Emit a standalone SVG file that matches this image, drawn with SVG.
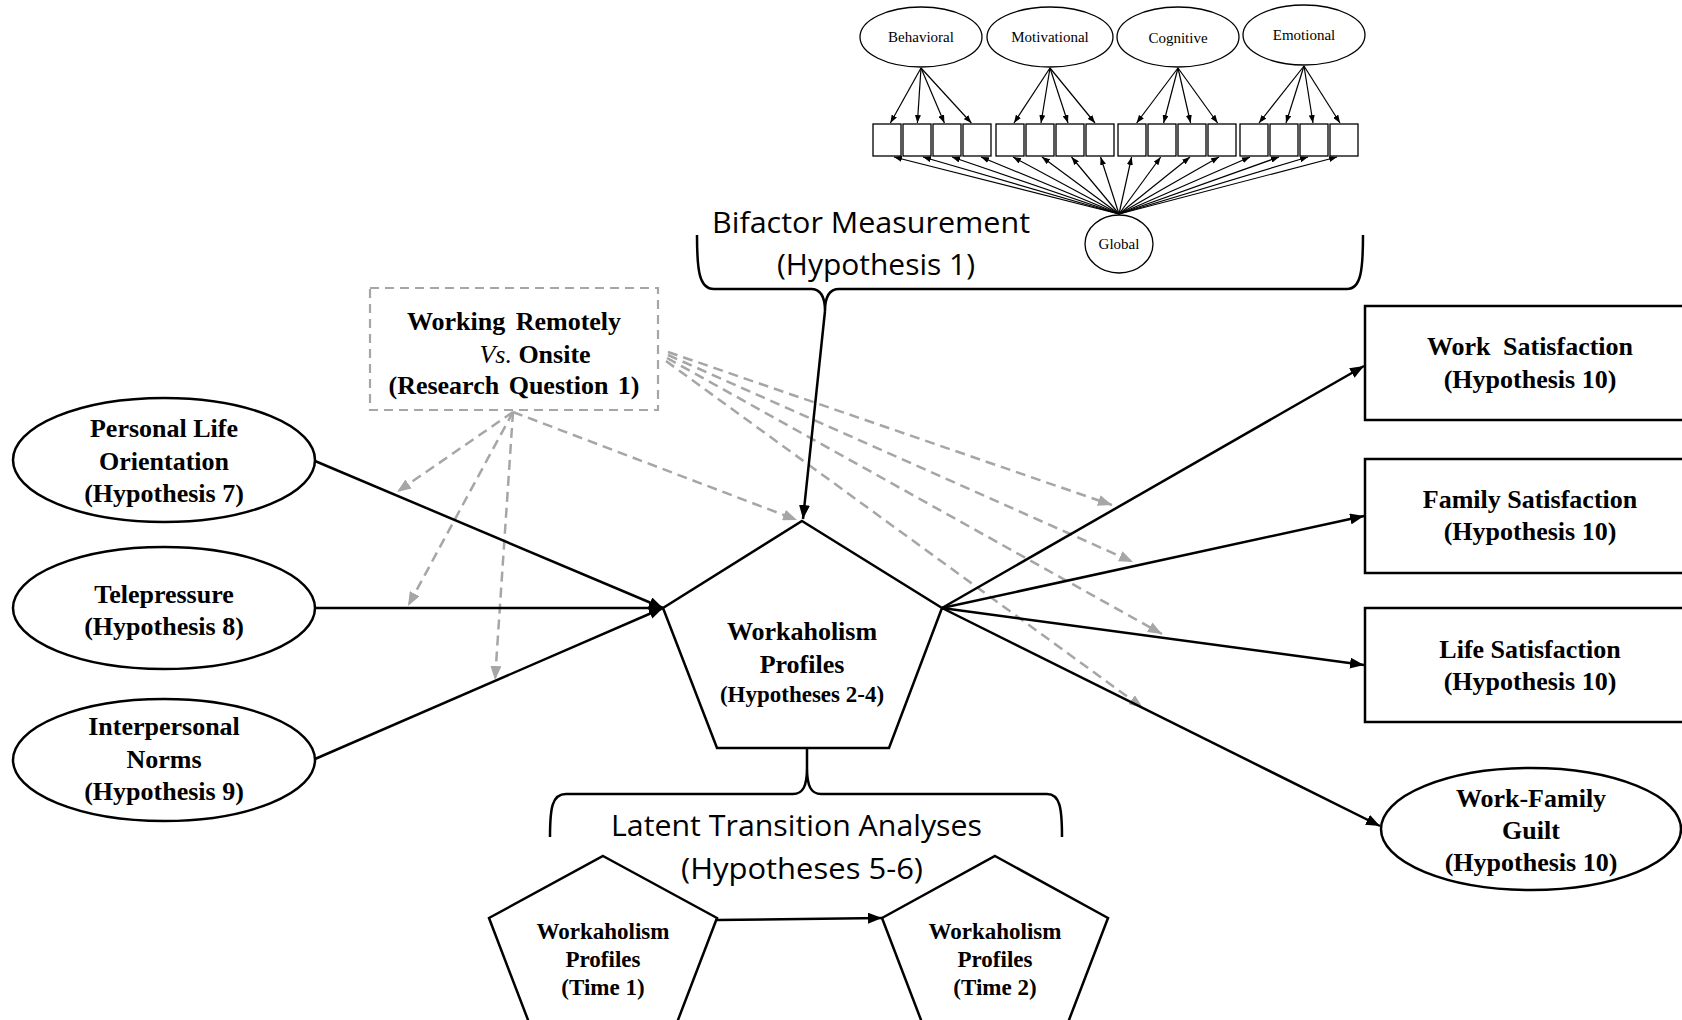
<svg xmlns="http://www.w3.org/2000/svg" width="1682" height="1020" viewBox="0 0 1682 1020">
<style>
.node{fill:#fff;stroke:#000;stroke-width:2.5}
.mm{fill:#fff;stroke:#000;stroke-width:1.3}
.lbl{font-family:"Liberation Serif","Times New Roman",serif;font-weight:bold;font-size:26px;text-anchor:middle;fill:#000}
.l23{font-size:23px}
.it{font-style:italic;font-weight:normal}
.sm{font-family:"Liberation Serif","Times New Roman",serif;font-size:15px;text-anchor:middle;fill:#000}
.sans{font-family:"Open Sans","Liberation Sans",sans-serif;font-size:30px;fill:#000}
.solid{stroke:#000;stroke-width:2.5;fill:none;marker-end:url(#ah)}
.dash{stroke:#a6a6a6;stroke-width:2.5;stroke-dasharray:10 6;fill:none;marker-end:url(#ahg)}
.thin{stroke:#000;stroke-width:1.2;fill:none;marker-end:url(#ahs)}
.brace{fill:none;stroke:#000;stroke-width:2.5}
.dbox{fill:#fff;stroke:#a6a6a6;stroke-width:2.2;stroke-dasharray:9 6}
</style>
<defs>
<marker id="ah" markerUnits="userSpaceOnUse" markerWidth="14" markerHeight="11" refX="14" refY="5.5" orient="auto"><path d="M0,0 L14,5.5 L0,11 z" fill="#000"/></marker>
<marker id="ahg" markerUnits="userSpaceOnUse" markerWidth="14" markerHeight="11" refX="14" refY="5.5" orient="auto"><path d="M0,0 L14,5.5 L0,11 z" fill="#a6a6a6"/></marker>
<marker id="ahs" markerUnits="userSpaceOnUse" markerWidth="8" markerHeight="6" refX="8" refY="3" orient="auto"><path d="M0,0 L8,3 L0,6 z" fill="#000"/></marker>
</defs>
<rect width="1682" height="1020" fill="#fff"/>

<!-- measurement model -->
<g id="behavioral"><ellipse class="mm" cx="921" cy="37" rx="61" ry="30"/><text class="sm" x="921" y="42">Behavioral</text></g>
<g id="motivational"><ellipse class="mm" cx="1050" cy="37" rx="63" ry="30"/><text class="sm" x="1050" y="42">Motivational</text></g>
<g id="cognitive"><ellipse class="mm" cx="1178" cy="37" rx="61" ry="30"/><text class="sm" x="1178" y="43">Cognitive</text></g>
<g id="emotional"><ellipse class="mm" cx="1304" cy="35" rx="61" ry="30"/><text class="sm" x="1304" y="40">Emotional</text></g>
<g id="global"><ellipse class="mm" cx="1119" cy="244" rx="34" ry="29"/><text class="sm" x="1119" y="249">Global</text></g>
<g id="items">
<g id="i1"><rect class="mm" x="873" y="124" width="28" height="32"/></g>
<g id="i2"><rect class="mm" x="903" y="124" width="28" height="32"/></g>
<g id="i3"><rect class="mm" x="933" y="124" width="28" height="32"/></g>
<g id="i4"><rect class="mm" x="963" y="124" width="28" height="32"/></g>
<g id="i5"><rect class="mm" x="996" y="124" width="28" height="32"/></g>
<g id="i6"><rect class="mm" x="1026" y="124" width="28" height="32"/></g>
<g id="i7"><rect class="mm" x="1056" y="124" width="28" height="32"/></g>
<g id="i8"><rect class="mm" x="1086" y="124" width="28" height="32"/></g>
<g id="i9"><rect class="mm" x="1118" y="124" width="28" height="32"/></g>
<g id="i10"><rect class="mm" x="1148" y="124" width="28" height="32"/></g>
<g id="i11"><rect class="mm" x="1178" y="124" width="28" height="32"/></g>
<g id="i12"><rect class="mm" x="1208" y="124" width="28" height="32"/></g>
<g id="i13"><rect class="mm" x="1240" y="124" width="28" height="32"/></g>
<g id="i14"><rect class="mm" x="1270" y="124" width="28" height="32"/></g>
<g id="i15"><rect class="mm" x="1300" y="124" width="28" height="32"/></g>
<g id="i16"><rect class="mm" x="1330" y="124" width="28" height="32"/></g>
</g>

<!-- braces and big labels -->
<g id="bifactor">
<path class="brace" d="M697,235 C697,270 699,289 714,289 L811,289 C821,289 825,297 825,311 C825,297 829,289 839,289 L1347,289 C1361,289 1363,270 1363,235"/>
<text class="sans" x="712" y="233" textLength="318" lengthAdjust="spacingAndGlyphs">Bifactor Measurement</text>
<text class="sans" x="777" y="275" textLength="198" lengthAdjust="spacingAndGlyphs">(Hypothesis 1)</text>
</g>
<g id="lta">
<path class="brace" d="M550,837 C550,808 552,794 566,794 L793,794 C803,794 807,786 807,768 L807,749 M807,768 C807,786 811,794 821,794 L1047,794 C1060,794 1062,808 1062,837"/>
<text class="sans" x="611" y="836" textLength="371" lengthAdjust="spacingAndGlyphs">Latent Transition Analyses</text>
<text class="sans" x="681" y="879" textLength="242" lengthAdjust="spacingAndGlyphs">(Hypotheses 5-6)</text>
</g>

<!-- nodes -->
<g id="remote">
<rect class="dbox" x="370" y="288" width="288" height="122"/>
<text class="lbl" x="514" y="330" word-spacing="4">Working Remotely</text>
<text class="lbl" x="535" y="363"><tspan class="it">Vs.</tspan> Onsite</text>
<text class="lbl" x="514" y="394" word-spacing="3">(Research Question 1)</text>
</g>
<g id="plo"><ellipse class="node" cx="164" cy="460" rx="151" ry="62"/>
<text class="lbl" x="164" y="437">Personal Life</text><text class="lbl" x="164" y="470">Orientation</text><text class="lbl" x="164" y="502">(Hypothesis 7)</text></g>
<g id="tele"><ellipse class="node" cx="164" cy="608" rx="151" ry="61"/>
<text class="lbl" x="164" y="603">Telepressure</text><text class="lbl" x="164" y="635">(Hypothesis 8)</text></g>
<g id="norms"><ellipse class="node" cx="164" cy="760" rx="151" ry="61"/>
<text class="lbl" x="164" y="735">Interpersonal</text><text class="lbl" x="164" y="768">Norms</text><text class="lbl" x="164" y="800">(Hypothesis 9)</text></g>
<g id="profiles"><polygon class="node" points="802,521 942,608 889,748 717,748 663,608"/>
<text class="lbl" x="802" y="640">Workaholism</text><text class="lbl" x="802" y="673">Profiles</text><text class="lbl l23" x="802" y="702">(Hypotheses 2-4)</text></g>
<g id="worksat"><rect class="node" x="1365" y="306" width="340" height="114"/>
<text class="lbl" x="1530" y="355" word-spacing="6">Work Satisfaction</text><text class="lbl" x="1530" y="388">(Hypothesis 10)</text></g>
<g id="famsat"><rect class="node" x="1365" y="459" width="340" height="114"/>
<text class="lbl" x="1530" y="508">Family Satisfaction</text><text class="lbl" x="1530" y="540">(Hypothesis 10)</text></g>
<g id="lifesat"><rect class="node" x="1365" y="608" width="340" height="114"/>
<text class="lbl" x="1530" y="658">Life Satisfaction</text><text class="lbl" x="1530" y="690">(Hypothesis 10)</text></g>
<g id="guilt"><ellipse class="node" cx="1531" cy="829" rx="150" ry="61"/>
<text class="lbl" x="1531" y="807">Work-Family</text><text class="lbl" x="1531" y="839">Guilt</text><text class="lbl" x="1531" y="871">(Hypothesis 10)</text></g>
<g id="time1"><polygon class="node" points="603,856 717,918 673,1033 533,1033 489,918"/>
<text class="lbl l23" x="603" y="939">Workaholism</text><text class="lbl l23" x="603" y="967">Profiles</text><text class="lbl l23" x="603" y="995">(Time 1)</text></g>
<g id="time2"><polygon class="node" points="995,856 1108,918 1064,1033 926,1033 882,918"/>
<text class="lbl l23" x="995" y="939">Workaholism</text><text class="lbl l23" x="995" y="967">Profiles</text><text class="lbl l23" x="995" y="995">(Time 2)</text></g>

<!-- connectors -->
<g id="connectors">
<line class="thin" x1="921" y1="68" x2="890.4" y2="123"/>
<line class="thin" x1="921" y1="68" x2="917.4" y2="123"/>
<line class="thin" x1="921" y1="68" x2="944.4" y2="123"/>
<line class="thin" x1="921" y1="68" x2="971.4" y2="123"/>
<line class="thin" x1="1050" y1="68" x2="1014" y2="123"/>
<line class="thin" x1="1050" y1="68" x2="1041" y2="123"/>
<line class="thin" x1="1050" y1="68" x2="1068" y2="123"/>
<line class="thin" x1="1050" y1="68" x2="1095" y2="123"/>
<line class="thin" x1="1178" y1="68" x2="1136.6" y2="123"/>
<line class="thin" x1="1178" y1="68" x2="1163.6" y2="123"/>
<line class="thin" x1="1178" y1="68" x2="1190.6" y2="123"/>
<line class="thin" x1="1178" y1="68" x2="1217.6" y2="123"/>
<line class="thin" x1="1304" y1="66" x2="1259" y2="123"/>
<line class="thin" x1="1304" y1="66" x2="1286" y2="123"/>
<line class="thin" x1="1304" y1="66" x2="1313" y2="123"/>
<line class="thin" x1="1304" y1="66" x2="1340" y2="123"/>
<line class="thin" x1="1119" y1="214" x2="894" y2="157"/>
<line class="thin" x1="1119" y1="214" x2="923" y2="157"/>
<line class="thin" x1="1119" y1="214" x2="952" y2="157"/>
<line class="thin" x1="1119" y1="214" x2="981" y2="157"/>
<line class="thin" x1="1119" y1="214" x2="1013" y2="157"/>
<line class="thin" x1="1119" y1="214" x2="1042" y2="157"/>
<line class="thin" x1="1119" y1="214" x2="1071.5" y2="157"/>
<line class="thin" x1="1119" y1="214" x2="1100.6" y2="157"/>
<line class="thin" x1="1119" y1="214" x2="1131.6" y2="157"/>
<line class="thin" x1="1119" y1="214" x2="1160.7" y2="157"/>
<line class="thin" x1="1119" y1="214" x2="1190" y2="157"/>
<line class="thin" x1="1119" y1="214" x2="1219" y2="157"/>
<line class="thin" x1="1119" y1="214" x2="1250" y2="157"/>
<line class="thin" x1="1119" y1="214" x2="1279" y2="157"/>
<line class="thin" x1="1119" y1="214" x2="1308" y2="157"/>
<line class="thin" x1="1119" y1="214" x2="1337" y2="157"/>

<path class="dash" d="M513,412 L397,492"/>
<path class="dash" d="M513,412 L408,606"/>
<path class="dash" d="M513,412 L495,680"/>
<path class="dash" d="M513,412 L797,520"/>
<path class="dash" d="M668,352 L1112,505"/>
<path class="dash" d="M668,355 L1133,562"/>
<path class="dash" d="M667,358 L1162,634"/>
<path class="dash" d="M666,361 L1143,708"/>

<path class="solid" d="M315,461 L663,608"/>
<path class="solid" d="M315,608 L663,608"/>
<path class="solid" d="M315,759 L663,608"/>
<path class="solid" d="M825,311 L803,519"/>
<path class="solid" d="M942,608 L1364,366"/>
<path class="solid" d="M942,608 L1364,516"/>
<path class="solid" d="M942,608 L1364,665"/>
<path class="solid" d="M942,608 L1380,826"/>
<path class="solid" d="M717,920 L882,918"/>
</g>
</svg>
